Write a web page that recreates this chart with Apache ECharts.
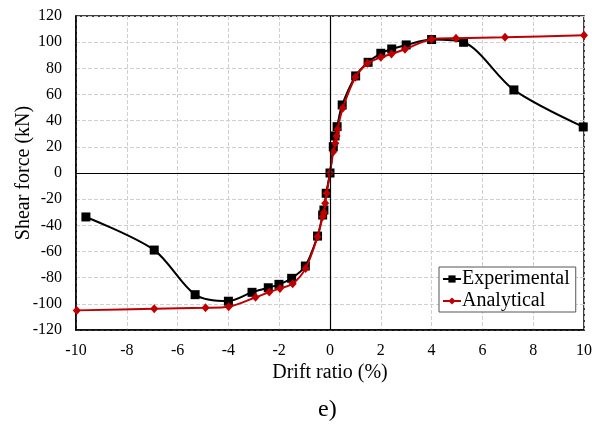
<!DOCTYPE html>
<html>
<head>
<meta charset="utf-8">
<script src="https://cdn.jsdelivr.net/npm/echarts@6/dist/echarts.min.js"></script>
<style>
html,body{margin:0;padding:0;background:#fff;}
#c{width:592px;height:424px;}
</style>
</head>
<body>
<div id="c"></div>
<script>
var expX = [-9.61, -6.92, -5.31, -4.0, -3.07, -2.43, -2.01, -1.51, -0.97, -0.49, -0.29, -0.24, -0.15, 0, 0.13, 0.2, 0.28, 0.48, 1.01, 1.5, 2.0, 2.43, 3.0, 4.0, 5.26, 7.24, 9.97];
var expY = [-33.6, -58.9, -93.0, -98.0, -91.2, -87.7, -85.1, -80.5, -71.1, -48.2, -32.1, -28.3, -15.5, 0, 20.1, 28.3, 35.4, 52.0, 74.2, 84.6, 91.5, 94.8, 97.9, 102.0, 99.9, 63.5, 35.2];
var anaX = [-9.97, -6.92, -4.9, -3.99, -2.93, -2.39, -1.97, -1.47, -0.96, -0.49, -0.29, -0.24, -0.19, -0.13, 0, 0.13, 0.21, 0.26, 0.3, 0.5, 1.0, 1.48, 2.0, 2.42, 2.95, 4.0, 4.96, 6.89, 10.0];
var anaY = [-105.0, -103.7, -103.0, -102.2, -95.0, -91.0, -88.2, -84.6, -72.9, -48.7, -33.4, -30.3, -23.2, -15.5, 0, 16.3, 22.7, 28.3, 33.4, 49.5, 73.2, 83.8, 88.4, 91.0, 94.6, 102.2, 103.0, 103.7, 105.3];
var xTicks = [-10, -8, -6, -4, -2, 0, 2, 4, 6, 8, 10];
var yTicks = [-120, -100, -80, -60, -40, -20, 0, 20, 40, 60, 80, 100, 120];
var seriesNames = ['Experimental', 'Analytical'];
var xName = 'Drift ratio (%)';
var yName = 'Shear force (kN)';
var caption = 'e)';

function pairs(xs, ys){ return xs.map(function(x,i){ return [x, ys[i]]; }); }
var FONT = "'Liberation Serif', 'Times New Roman', serif";
var chart = echarts.init(document.getElementById('c'), null, {renderer:'canvas'});
chart.setOption({
  animation: false,
  backgroundColor: '#fff',
  textStyle: {fontFamily: FONT, color: '#000'},
  grid: {left: 76, right: 8, top: 16, bottom: 94, containLabel: false, outerBoundsMode: 'none',
         show: true, borderColor: '#000', borderWidth: 1.5, backgroundColor: 'transparent'},
  legend: {
    left: 439, top: 267, orient: 'vertical',
    padding: [2, 6, 1, 3], itemGap: 2, itemWidth: 18, itemHeight: 9,
    borderColor: '#555', borderWidth: 1, backgroundColor: '#fff',
    textStyle: {fontFamily: FONT, fontSize: 20, color: '#000', padding: [0,0,0,-4]},
    data: seriesNames
  },
  xAxis: {
    type: 'value', min: xTicks[0], max: xTicks[xTicks.length-1], interval: 2,
    name: xName, nameLocation: 'middle', nameGap: 33, nameMoveOverlap: false,
    nameTextStyle: {fontFamily: FONT, fontSize: 20, color: '#000'},
    axisLine: {onZero: false, lineStyle: {color: '#000', width: 1.5}},
    axisTick: {show: false},
    axisLabel: {fontFamily: FONT, fontSize: 16, color: '#000', margin: 13},
    splitLine: {show: true, lineStyle: {color: '#d0d0d0', type: [4, 2], width: 1}}
  },
  yAxis: {
    type: 'value', min: yTicks[0], max: yTicks[yTicks.length-1], interval: 20,
    name: yName, nameLocation: 'middle', nameGap: 42, nameMoveOverlap: false,
    nameTextStyle: {fontFamily: FONT, fontSize: 20, color: '#000'},
    axisLine: {onZero: false, lineStyle: {color: '#000', width: 1.5}},
    axisTick: {show: false},
    axisLabel: {fontFamily: FONT, fontSize: 16, color: '#000', margin: 14},
    splitLine: {show: true, lineStyle: {color: '#d0d0d0', type: [4, 2], width: 1}}
  },
  graphic: [{
    type: 'text', left: 318, top: 398, silent: true,
    style: {text: caption, font: "24px 'Liberation Serif', 'Times New Roman', serif", fill: '#000'}
  }],
  series: [
    {
      name: seriesNames[0], type: 'line', data: pairs(expX, expY),
      smooth: 0.3, symbol: 'rect', symbolSize: 9, z: 3,
      lineStyle: {color: '#000', width: 2}, itemStyle: {color: '#000'},
      markLine: {
        silent: true, symbol: ['none','none'], label: {show: false},
        lineStyle: {color: '#000', width: 1.2, type: 'solid'},
        data: [{xAxis: 0}, {yAxis: 0}]
      }
    },
    {
      name: seriesNames[1], type: 'line', data: pairs(anaX, anaY),
      smooth: 0.3, symbol: 'diamond', symbolSize: [8, 9], z: 4,
      lineStyle: {color: '#C00000', width: 2}, itemStyle: {color: '#C00000'}
    }
  ]
});
</script>
</body>
</html>
